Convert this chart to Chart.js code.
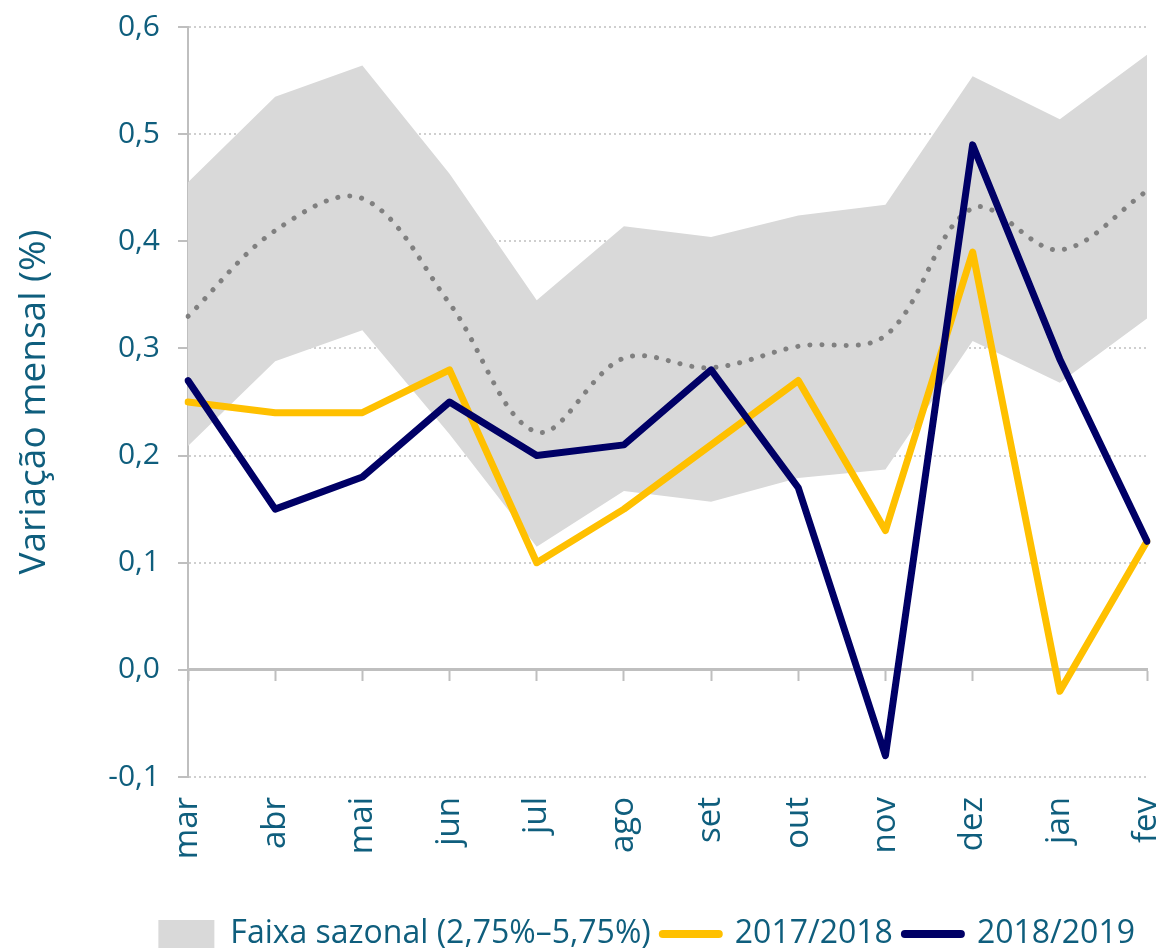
<!DOCTYPE html>
<html lang="pt">
<head>
<meta charset="utf-8">
<title>Variação mensal</title>
<script src="https://cdn.jsdelivr.net/npm/chart.js@4"></script>
<style>
  html, body { margin: 0; padding: 0; background: #ffffff; }
  #wrap { width: 1171px; height: 950px; }
</style>
</head>
<body>
<div id="wrap"><canvas id="chart" width="1171" height="950"></canvas></div>
<script>
// Data
const months = ['mar', 'abr', 'mai', 'jun', 'jul', 'ago', 'set', 'out', 'nov', 'dez', 'jan', 'fev'];
const bandUpper = [0.455, 0.535, 0.564, 0.463, 0.345, 0.414, 0.404, 0.424, 0.434, 0.554, 0.514, 0.574];
const bandLower = [0.209, 0.288, 0.317, 0.220, 0.115, 0.167, 0.157, 0.179, 0.187, 0.307, 0.268, 0.328];
const seasonalMean = [0.33, 0.41, 0.44, 0.342, 0.222, 0.291, 0.282, 0.302, 0.312, 0.431, 0.392, 0.447];
const series2017 = [0.25, 0.24, 0.24, 0.28, 0.10, 0.15, 0.21, 0.27, 0.13, 0.39, -0.02, 0.12];
const series2018 = [0.27, 0.15, 0.18, 0.25, 0.20, 0.21, 0.28, 0.17, -0.08, 0.49, 0.29, 0.12];
const yMin = -0.1;
const yMax = 0.6;
const yStep = 0.1;

const TEXT = '#0f5e7d';
const AXIS = '#bfbfbf';
const FONT = "'Open Sans', 'DejaVu Sans', sans-serif";

const ctx = document.getElementById('chart').getContext('2d');
new Chart(ctx, {
    type: 'line',
    data: {
        labels: months,
        datasets: [{
            label: '2017/2018',
            data: series2017,
            borderColor: '#ffc000',
            backgroundColor: '#ffc000',
            borderWidth: 7,
            borderJoinStyle: 'round',
            borderCapStyle: 'round',
            pointRadius: 0,
            tension: 0,
            fill: false,
            order: 1
        }, {
            label: '2018/2019',
            data: series2018,
            borderColor: '#000066',
            backgroundColor: '#000066',
            borderWidth: 7,
            borderJoinStyle: 'round',
            borderCapStyle: 'round',
            pointRadius: 0,
            tension: 0,
            fill: false,
            order: 0
        }, {
            label: 'Média',
            data: seasonalMean,
            borderColor: '#808080',
            borderWidth: 5,
            borderDash: [0.1, 12],
            borderCapStyle: 'round',
            pointRadius: 0,
            tension: 0.35,
            fill: false,
            order: 2
        }, {
            label: 'Faixa sazonal (2,75%–5,75%)',
            data: bandUpper,
            borderWidth: 0,
            borderColor: 'rgba(0,0,0,0)',
            backgroundColor: '#d9d9d9',
            pointRadius: 0,
            tension: 0,
            fill: '+1',
            order: 5
        }, {
            label: 'lower',
            data: bandLower,
            borderWidth: 0,
            borderColor: 'rgba(0,0,0,0)',
            pointRadius: 0,
            tension: 0,
            fill: false,
            order: 6
        }]
    },
    options: {
        responsive: false,
        animation: false,
        layout: { padding: { left: 8, right: 24, top: 27, bottom: -10 } },
        plugins: {
            tooltip: { enabled: false },
            legend: {
                position: 'bottom',
                align: 'end',
                labels: {
                    usePointStyle: true,
                    pointStyleWidth: 56,
                    boxHeight: 28,
                    padding: 12,
                    color: TEXT,
                    font: { family: FONT, size: 32 },
                    generateLabels(chart) {
                        const ds = chart.data.datasets;
                        return [3, 0, 1].map(i => ({
                            text: ds[i].label,
                            datasetIndex: i,
                            fillStyle: i === 3 ? ds[i].backgroundColor : ds[i].borderColor,
                            strokeStyle: i === 3 ? ds[i].backgroundColor : ds[i].borderColor,
                            lineWidth: i === 3 ? 0 : 8,
                            lineCap: 'round',
                            pointStyle: i === 3 ? 'rect' : 'line',
                            fontColor: TEXT,
                            hidden: false
                        }));
                    }
                }
            }
        },
        scales: {
            x: {
                type: 'category',
                position: 'bottom',
                offset: false,
                grid: { display: false, drawTicks: false },
                border: { display: false },
                ticks: {
                    autoSkip: false,
                    minRotation: 90,
                    maxRotation: 90,
                    padding: 20,
                    color: TEXT,
                    font: { family: FONT, size: 33 }
                },
                afterFit(scale) {
                    scale.height = 129;
                    scale.paddingLeft = 0;
                    scale.paddingRight = 0;
                }
            },
            x2: {
                type: 'category',
                axis: 'x',
                position: { y: 0 },
                offset: false,
                grid: {
                    display: true,
                    drawOnChartArea: false,
                    drawTicks: true,
                    tickLength: 10,
                    tickColor: AXIS,
                    tickWidth: 2
                },
                border: { display: true, color: AXIS, width: 3 },
                ticks: { display: false }
            },
            y: {
                min: yMin,
                max: yMax,
                position: 'left',
                title: {
                    display: true,
                    text: 'Variação mensal (%)',
                    color: TEXT,
                    font: { family: FONT, size: 37 },
                    padding: { top: 4, bottom: 0 }
                },
                ticks: {
                    stepSize: yStep,
                    padding: 18,
                    color: TEXT,
                    font: { family: FONT, size: 30 },
                    callback: v => (Math.abs(v) < 1e-9 ? 0 : v).toFixed(1).replace('.', ',')
                },
                grid: {
                    color: c => (c.tick && Math.abs(c.tick.value) < 1e-9) ? 'rgba(0,0,0,0)' : '#cfcfcf',
                    lineWidth: 2,
                    tickLength: 10,
                    tickColor: AXIS,
                    tickWidth: 2
                },
                border: { display: true, color: AXIS, width: 2, dash: [2, 3] },
                afterFit(scale) {
                    scale.width = 180;
                    scale.paddingTop = 0;
                    scale.paddingBottom = 0;
                }
            }
        }
    }
});
</script>
</body>
</html>
